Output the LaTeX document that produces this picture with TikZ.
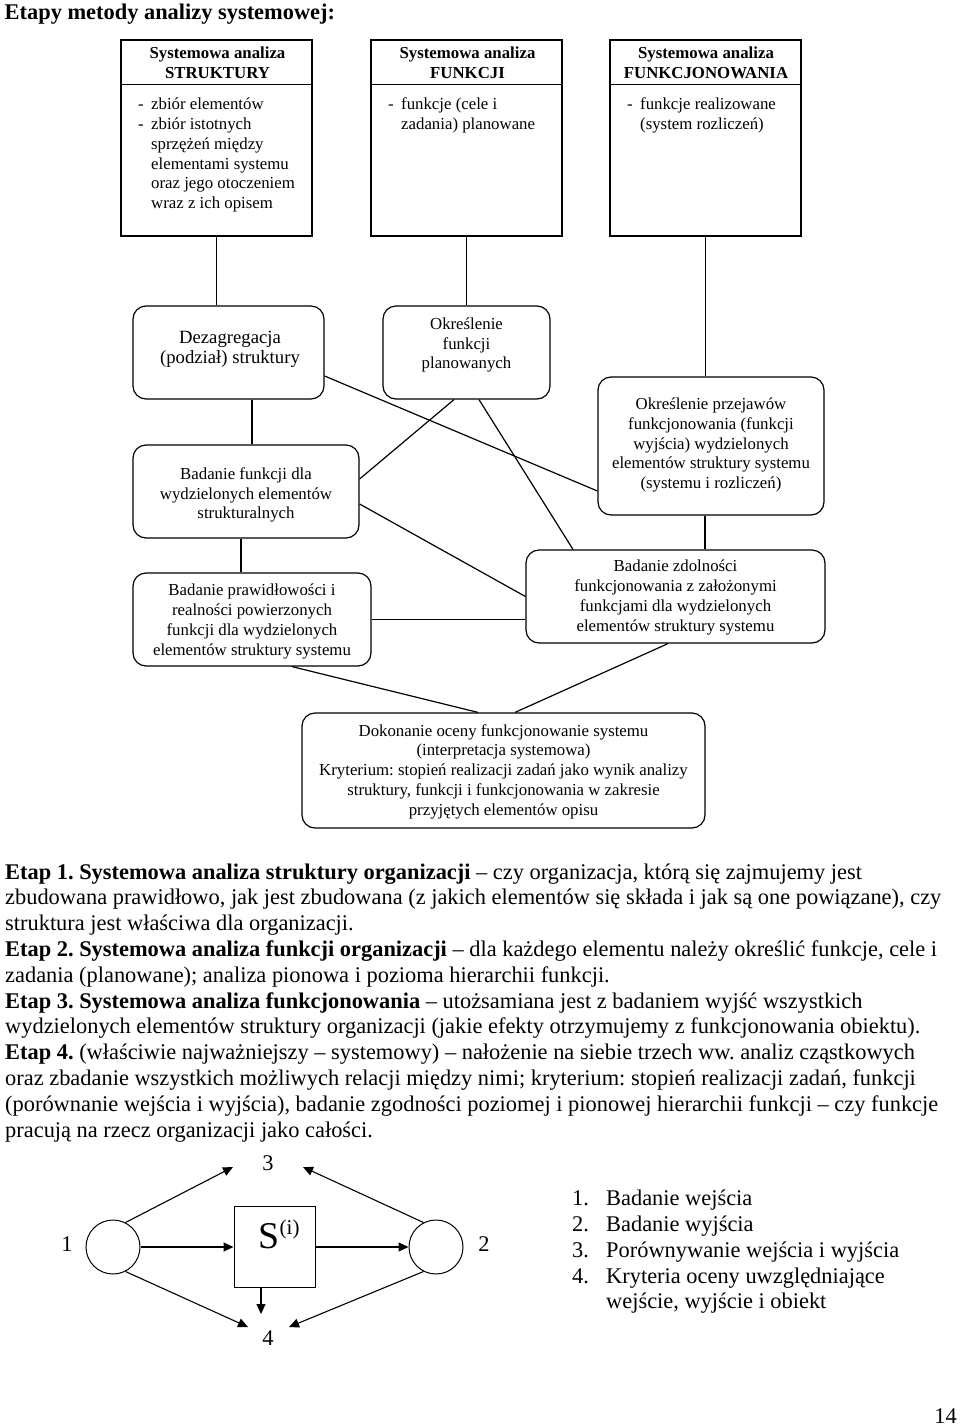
\documentclass[tikz,border=0pt]{standalone}
\usepackage{fontspec}
\setmainfont{Liberation Serif}
\usetikzlibrary{arrows.meta,calc}
\frenchspacing
\begin{document}
\begin{tikzpicture}[x=1pt,y=-1pt,
  topbox/.style={draw, line width=1.2pt, minimum width=191pt, minimum height=196pt, inner sep=0pt},
  rbox/.style={draw, rounded corners=13pt, line width=1.2pt, inner sep=0pt},
  boxtxt/.style={align=center, inner sep=0pt, font=\fontsize{16.8}{19.7}\selectfont},
  hdrtxt/.style={align=center, inner sep=0pt, font=\fontsize{16.8}{19.7}\selectfont\bfseries},
  bodytxt/.style={anchor=north west, inner sep=0pt, font=\fontsize{16.8}{19.7}\selectfont},
  conn/.style={line width=1.2pt},
  arr/.style={line width=1.1pt, -{Triangle[length=10pt,width=9pt]}},
  para/.style={anchor=base west, inner sep=0pt, font=\fontsize{22.4}{25.8}\selectfont},
  lbl/.style={inner sep=0pt, font=\fontsize{22.4}{25.8}\selectfont}]
\useasboundingbox (0,0) rectangle (960,1427);

% title
\node[para, font=\fontsize{22.4}{25.8}\selectfont\bfseries] (title) at (4.5,19) {Etapy metody analizy systemowej:};

% top boxes
\node[topbox] (b1) at (216.5,138) {};
\node[topbox] (b2) at (466.5,138) {};
\node[topbox] (b3) at (705.5,138) {};
\draw[conn] ([yshift=-45pt]b1.north west) -- ([yshift=-45pt]b1.north east);
\draw[conn] ([yshift=-45pt]b2.north west) -- ([yshift=-45pt]b2.north east);
\draw[conn] ([yshift=-45pt]b3.north west) -- ([yshift=-45pt]b3.north east);
\node[hdrtxt] (h1) at (217.5,63) {Systemowa analiza\\STRUKTURY};
\node[hdrtxt] (h2) at (467.5,63) {Systemowa analiza\\FUNKCJI};
\node[hdrtxt] (h3) at (706,63) {Systemowa analiza\\FUNKCJONOWANIA};
\node[bodytxt] (t1) at (138,96) {\begin{tabular}{@{}p{13pt}@{}l@{}}
-&zbiór elementów\\
-&zbiór istotnych\\
&sprzężeń między\\
&elementami systemu\\
&oraz jego otoczeniem\\
&wraz z ich opisem\end{tabular}};
\node[bodytxt] (t2) at (388,96) {\begin{tabular}{@{}p{13pt}@{}l@{}}
-&funkcje (cele i\\
&zadania) planowane\end{tabular}};
\node[bodytxt] (t3) at (627,96) {\begin{tabular}{@{}p{13pt}@{}l@{}}
-&funkcje realizowane\\
&(system rozliczeń)\end{tabular}};

% rounded boxes
\node[rbox, minimum width=191pt, minimum height=93pt] (dez) at (228.5,352.5) {};
\node[rbox, minimum width=167pt, minimum height=93pt] (okf) at (466.5,352.5) {};
\node[rbox, minimum width=226pt, minimum height=93pt] (bf) at (246,491.5) {};
\node[rbox, minimum width=226pt, minimum height=138pt] (prz) at (711,446) {};
\node[rbox, minimum width=238pt, minimum height=93pt] (bp) at (252,619.5) {};
\node[rbox, minimum width=299pt, minimum height=93pt] (bz) at (675.5,596.5) {};
\node[rbox, minimum width=403pt, minimum height=115pt] (dok) at (503.5,770.5) {};

\node[boxtxt, font=\fontsize{18.7}{20}\selectfont] (dezt) at (230,349) {Dezagregacja\\(podział) struktury};
\node[boxtxt] (okft) at (466.5,345) {Określenie\\funkcji\\planowanych};
\node[boxtxt] (bft) at (246,495) {Badanie funkcji dla\\wydzielonych elementów\\strukturalnych};
\node[boxtxt] (przt) at (711,445) {Określenie przejawów\\funkcjonowania (funkcji\\wyjścia) wydzielonych\\elementów struktury systemu\\(systemu i rozliczeń)};
\node[boxtxt] (bpt) at (252,621.5) {Badanie prawidłowości i\\realności powierzonych\\funkcji dla wydzielonych\\elementów struktury systemu};
\node[boxtxt] (bzt) at (675.5,597.5) {Badanie zdolności\\funkcjonowania z założonymi\\funkcjami dla wydzielonych\\elementów struktury systemu};
\node[boxtxt] (dokt) at (503.5,771.5) {Dokonanie oceny funkcjonowanie systemu\\(interpretacja systemowa)\\Kryterium: stopień realizacji zadań jako wynik analizy\\struktury, funkcji i funkcjonowania w zakresie\\przyjętych elementów opisu};

% connectors
\draw[conn] (b1.south) -- (b1.south |- dez.north);
\draw[conn] (b2.south) -- (okf.north);
\draw[conn] (b3.south) -- (b3.south |- prz.north);
\coordinate (d1) at ([xshift=23.5pt]dez.south);
\draw[conn] (d1) -- (d1 |- bf.north);
\coordinate (d2) at ([xshift=-5pt]bf.south);
\draw[conn] (d2) -- (d2 |- bp.north);
\coordinate (d3) at ([xshift=-6pt]prz.south);
\draw[conn] (d3) -- (d3 |- bz.north);
\draw[conn] ([xshift=-12.5pt]okf.south) -- ([yshift=12.5pt]bf.east);
\draw[conn] ([xshift=12.5pt]okf.south) -- ([xshift=-102.5pt]bz.north);
\draw[conn] ([yshift=-23.5pt]dez.east) -- ([yshift=-45pt]prz.west);
\draw[conn] ([yshift=-12.5pt]bf.east) -- (bz.west);
\draw[conn] (bp.east) -- (bp.east -| bz.west);
\draw[conn] ([xshift=40pt]bp.south) -- ([xshift=-25.5pt]dok.north);
\draw[conn] ([xshift=-7.5pt]bz.south) -- ([xshift=11.5pt]dok.north);

% paragraph
\node[para] (p1) at (5,879) {\textbf{Etap 1. Systemowa analiza struktury organizacji} – czy organizacja, którą się zajmujemy jest};
\node[para] (p2) at (5,904.8) {zbudowana prawidłowo, jak jest zbudowana (z jakich elementów się składa i jak są one powiązane), czy};
\node[para] (p3) at (5,930.6) {struktura jest właściwa dla organizacji.};
\node[para] (p4) at (5,956.4) {\textbf{Etap 2. Systemowa analiza funkcji organizacji} – dla każdego elementu należy określić funkcje, cele i};
\node[para] (p5) at (5,982.2) {zadania (planowane); analiza pionowa i pozioma hierarchii funkcji.};
\node[para] (p6) at (5,1008) {\textbf{Etap 3. Systemowa analiza funkcjonowania} – utożsamiana jest z badaniem wyjść wszystkich};
\node[para] (p7) at (5,1033.8) {wydzielonych elementów struktury organizacji (jakie efekty otrzymujemy z funkcjonowania obiektu).};
\node[para] (p8) at (5,1059.6) {\textbf{Etap 4.} (właściwie najważniejszy – systemowy) – nałożenie na siebie trzech ww. analiz cząstkowych};
\node[para] (p9) at (5,1085.4) {oraz zbadanie wszystkich możliwych relacji między nimi; kryterium: stopień realizacji zadań, funkcji};
\node[para] (p10) at (5,1111.2) {(porównanie wejścia i wyjścia), badanie zgodności poziomej i pionowej hierarchii funkcji – czy funkcje};
\node[para] (p11) at (5,1137) {pracują na rzecz organizacji jako całości.};

% bottom diagram
\node[draw, circle, line width=1pt, minimum size=54pt, inner sep=0pt] (c1) at (113,1247) {};
\node[draw, circle, line width=1pt, minimum size=54pt, inner sep=0pt] (c2) at (436,1247) {};
\node[draw, rectangle, line width=1pt, minimum size=81pt, inner sep=0pt] (sq) at (274.5,1246.5) {};
\node[anchor=base west, inner sep=0pt, font=\fontsize{37.8}{40}\selectfont] (s) at (258.5,1248) {S\raisebox{14pt}{\fontsize{21}{22}\selectfont (i)}};
\node[lbl] (l1) at (67,1244) {1};
\node[lbl] (l2) at (484,1244) {2};
\node[lbl] (l3) at (268,1163) {3};
\node[lbl] (l4) at (268,1338) {4};
\coordinate (a3l) at (233,1167);
\coordinate (a3r) at (303,1167);
\coordinate (a4l) at (248,1327);
\coordinate (a4r) at (289,1327);
\coordinate (a4m) at (261,1314);
\draw[arr] (c1.63) -- (a3l);
\draw[arr] (c1.east) -- (c1.east -| sq.west);
\draw[arr] (c2.west -| sq.east) -- (c2.west);
\draw[arr] (c2.117) -- (a3r);
\draw[arr] (c1.-63) -- (a4l);
\draw[arr] (c2.-117) -- (a4r);
\draw[arr] ([xshift=-13.5pt]sq.south) -- (a4m);

% list
\node[para] (n1) at (572,1205) {1.};
\node[para] (n2) at (572,1231) {2.};
\node[para] (n3) at (572,1257) {3.};
\node[para] (n4) at (572,1283) {4.};
\node[para] (i1) at (606,1205) {Badanie wejścia};
\node[para] (i2) at (606,1231) {Badanie wyjścia};
\node[para] (i3) at (606,1257) {Porównywanie wejścia i wyjścia};
\node[para] (i4) at (606,1283) {Kryteria oceny uwzględniające};
\node[para] (i5) at (606,1308) {wejście, wyjście i obiekt};

\node[anchor=base east, inner sep=0pt, font=\fontsize{22.4}{25.8}\selectfont] (pg) at (957,1423) {14};
\end{tikzpicture}
\end{document}
